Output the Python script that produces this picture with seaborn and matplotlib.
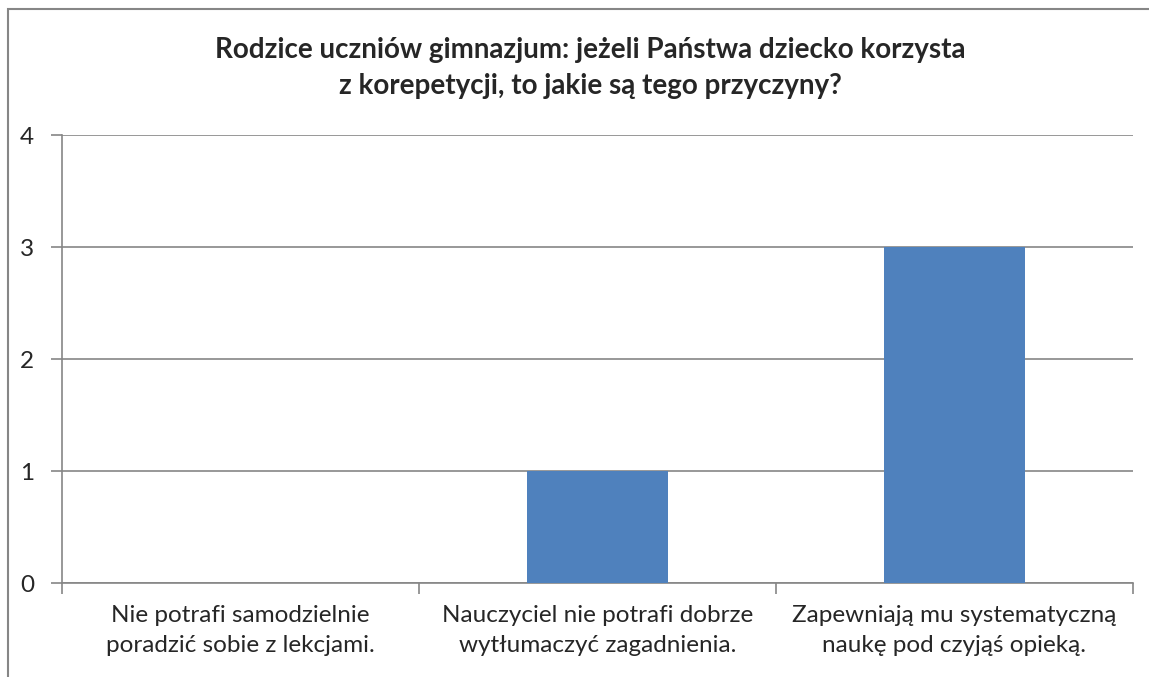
"""
Rodzice uczniów gimnazjum - przyczyny korzystania z korepetycji
"""
import matplotlib
matplotlib.use('Agg')
import matplotlib.pyplot as plt
import seaborn as sns
import pandas as pd
from matplotlib.patches import Rectangle

# dane
kategorie = [
    'Nie potrafi samodzielnie\nporadzić sobie z lekcjami.',
    'Nauczyciel nie potrafi dobrze\nwytłumaczyć zagadnienia.',
    'Zapewniają mu systematyczną\nnaukę pod czyjąś opieką.',
]
wartosci = [0, 1, 3]
yticki = [0, 1, 2, 3, 4]
tytul = ('Rodzice uczniów gimnazjum: jeżeli Państwa dziecko korzysta\n'
         'z korepetycji, to jakie są tego przyczyny?')

sns.set_style('white')
plt.rcParams['font.family'] = ['Lato', 'DejaVu Sans']

df = pd.DataFrame({'kategoria': kategorie, 'wartosc': wartosci})

fig = plt.figure(figsize=(11.49, 6.77), dpi=100)
ax = fig.add_axes([62 / 1149, 94 / 677, 1071 / 1149, 448 / 677])

sns.barplot(data=df, x='kategoria', y='wartosc', color='#4F81BD',
            saturation=1, width=0.395, linewidth=0, ax=ax, zorder=3)

grid_c = '#868686'
ax.set_ylim(0, 4)
ax.set_xlim(-0.5, 2.5)
ax.set_yticks(yticki)
ax.set_yticklabels([str(t) for t in yticki])
ax.grid(axis='y', color=grid_c, linewidth=1.2, zorder=0)
ax.set_axisbelow(True)
ax.set_xlabel('')
ax.set_ylabel('')

for s in ['top', 'right']:
    ax.spines[s].set_visible(False)
for s in ['left', 'bottom']:
    ax.spines[s].set_color(grid_c)
    ax.spines[s].set_linewidth(1.2)

ax.tick_params(axis='y', length=8, width=1.2, color=grid_c, pad=12,
               left=True, labelsize=17.5)
ax.set_xticks([0, 1, 2])
ax.set_xticklabels(kategorie, fontsize=17.5, linespacing=1.5)
ax.tick_params(axis='x', which='major', length=0, pad=16)
ax.set_xticks([-0.5, 0.5, 1.5, 2.5], minor=True)
ax.tick_params(axis='x', which='minor', length=8, width=1.2, color=grid_c,
               bottom=True)

fig.text(590 / 1149, 1 - 68 / 677, tytul, ha='center', va='center',
         fontsize=20, fontweight='bold', linespacing=1.45)

# ramka wykresu
fig.patches.append(Rectangle((8 / 1149, -0.1), 1.2, 1 - 9 / 677 + 0.1,
                             transform=fig.transFigure, fill=False,
                             edgecolor=grid_c, linewidth=1.5))

plt.savefig('out.png', dpi=100)
plt.close()
